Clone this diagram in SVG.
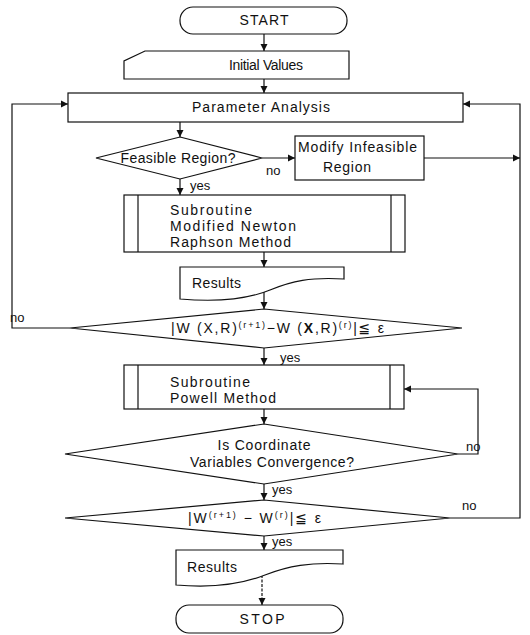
<svg xmlns="http://www.w3.org/2000/svg" width="530" height="635" viewBox="0 0 530 635">
<defs>
<marker id="ah" markerWidth="8" markerHeight="8" refX="7" refY="4" orient="auto" markerUnits="userSpaceOnUse">
<path d="M0,0.5 L7,4 L0,7.5 Z" fill="#111"/>
</marker>
<style>
.s{fill:#fff;stroke:#111;stroke-width:1.2}
.c{fill:none;stroke:#111;stroke-width:1.2}
.t{font-family:"Liberation Sans","DejaVu Sans",Arial,sans-serif;font-size:14px;fill:#111}
.m{text-anchor:middle}
.lbl{font-family:"Liberation Sans","DejaVu Sans",Arial,sans-serif;font-size:13px;fill:#111}
.sup{font-size:9px}
</style>
</defs>
<rect width="530" height="635" fill="#fff"/>

<g id="connectors">
<line class="c" x1="264" y1="34" x2="264" y2="51" marker-end="url(#ah)"/>
<line class="c" x1="264" y1="79" x2="264" y2="93" marker-end="url(#ah)"/>
<line class="c" x1="180" y1="122" x2="180" y2="137" marker-end="url(#ah)"/>
<line class="c" x1="262" y1="158" x2="295" y2="158" marker-end="url(#ah)"/>
<line class="c" x1="424" y1="158" x2="520" y2="158" marker-end="url(#ah)"/>
<line class="c" x1="180" y1="179" x2="180" y2="195" marker-end="url(#ah)"/>
<line class="c" x1="264" y1="252" x2="264" y2="267" marker-end="url(#ah)"/>
<line class="c" x1="264" y1="290" x2="264" y2="309" marker-end="url(#ah)"/>
<polyline class="c" points="70,328 12,328 12,104 68,104" marker-end="url(#ah)"/>
<line class="c" x1="264" y1="348" x2="264" y2="365" marker-end="url(#ah)"/>
<line class="c" x1="264" y1="409" x2="264" y2="424" marker-end="url(#ah)"/>
<polyline class="c" points="458,454 478,454 478,389 404,389" marker-end="url(#ah)"/>
<line class="c" x1="264" y1="484" x2="264" y2="500" marker-end="url(#ah)"/>
<polyline class="c" points="450,518 520,518 520,104 463,104" marker-end="url(#ah)"/>
<line class="c" x1="264" y1="536" x2="264" y2="550" marker-end="url(#ah)"/>
<line class="c" x1="262" y1="575" x2="262" y2="605" stroke-dasharray="3,1.5" marker-end="url(#ah)"/>
</g>

<g id="start">
<rect class="s" x="180" y="7" width="167" height="27" rx="13"/>
<text class="t m" x="264" y="25" textLength="49">START</text>
</g>

<g id="initial-values">
<path class="s" d="M145,51 H349 V79 H124 V61 Z"/>
<text class="t m" x="266" y="70" textLength="74">Initial Values</text>
</g>

<g id="parameter-analysis">
<rect class="s" x="68" y="93" width="395" height="29"/>
<text class="t m" x="261" y="112" textLength="138">Parameter Analysis</text>
</g>

<g id="feasible-region">
<path class="s" d="M180,137 L262,158 L180,179 L96,158 Z"/>
<text class="t m" x="178" y="163" textLength="115">Feasible Region?</text>
<text class="lbl" x="266" y="175">no</text>
<text class="lbl" x="190" y="190">yes</text>
</g>

<g id="modify-infeasible">
<rect class="s" x="295" y="136" width="129" height="44"/>
<text class="t" x="298" y="152" textLength="119">Modify Infeasible</text>
<text class="t" x="323" y="172" textLength="48">Region</text>
</g>

<g id="newton-raphson">
<rect class="s" x="124" y="195" width="281" height="57"/>
<line class="c" x1="138" y1="195" x2="138" y2="252"/>
<line class="c" x1="391" y1="195" x2="391" y2="252"/>
<text class="t" x="170" y="215" textLength="82">Subroutine</text>
<text class="t" x="170" y="231" textLength="126">Modified  Newton</text>
<text class="t" x="170" y="247" textLength="121">Raphson  Method</text>
</g>

<g id="results-1">
<path class="s" d="M180,267 H344 V279 C310,277 292,281 270,290 C246,300 215,302 180,299 Z"/>
<text class="t" x="192" y="288" textLength="49">Results</text>
</g>

<g id="convergence-w">
<path class="s" d="M264,309 L462,328 L264,348 L70,328 Z"/>
<text class="t" x="171" y="333" textLength="213">|W (X,R)<tspan class="sup" dy="-5">(r+1)</tspan><tspan dy="5">−W (</tspan><tspan font-weight="bold">X</tspan>,R)<tspan class="sup" dy="-5">(r)</tspan><tspan dy="5">|≦ ε</tspan></text>
<text class="lbl" x="10" y="322">no</text>
<text class="lbl" x="280" y="362">yes</text>
</g>

<g id="powell">
<rect class="s" x="124" y="365" width="280" height="44"/>
<line class="c" x1="138" y1="365" x2="138" y2="409"/>
<line class="c" x1="390" y1="365" x2="390" y2="409"/>
<text class="t" x="170" y="387" textLength="80">Subroutine</text>
<text class="t" x="170" y="403" textLength="106">Powell  Method</text>
</g>

<g id="coordinate-convergence">
<path class="s" d="M264,424 L458,454 L264,484 L65,454 Z"/>
<text class="t m" x="264" y="450" textLength="93">Is Coordinate</text>
<text class="t m" x="272" y="467" textLength="164">Variables Convergence?</text>
<text class="lbl" x="466" y="451">no</text>
<text class="lbl" x="272" y="494">yes</text>
</g>

<g id="convergence-w2">
<path class="s" d="M264,500 L450,518 L264,536 L65,518 Z"/>
<text class="t" x="188" y="523" textLength="133">|W<tspan class="sup" dy="-5">(r+1)</tspan><tspan dy="5"> − W</tspan><tspan class="sup" dy="-5">(r)</tspan><tspan dy="5">|≦ ε</tspan></text>
<text class="lbl" x="462" y="510">no</text>
<text class="lbl" x="272" y="546">yes</text>
</g>

<g id="results-2">
<path class="s" d="M176,550 H343 V564 C310,562 288,566 265,575 C240,585 210,588 176,585 Z"/>
<text class="t" x="187" y="572" textLength="50">Results</text>
</g>

<g id="stop">
<rect class="s" x="176" y="605" width="167" height="28" rx="13"/>
<text class="t m" x="262" y="624" textLength="45">STOP</text>
</g>
</svg>
